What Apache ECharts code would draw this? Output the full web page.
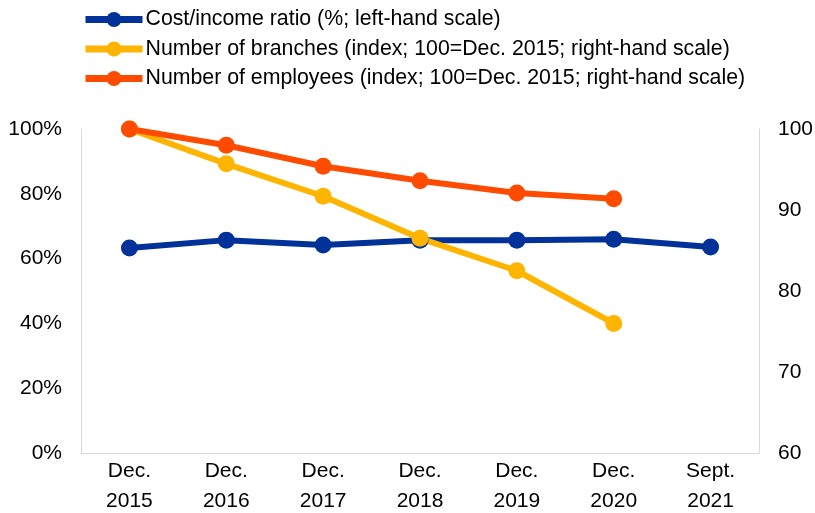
<!DOCTYPE html>
<html>
<head>
<meta charset="utf-8">
<script src="https://cdn.jsdelivr.net/npm/echarts@6/dist/echarts.min.js"></script>
<style>
  html, body { margin: 0; padding: 0; background: #fff; }
  #chart { width: 815px; height: 513px; }
</style>
</head>
<body>
<div id="chart"></div>
<script>
// categories
const categories = ['Dec.\n2015', 'Dec.\n2016', 'Dec.\n2017', 'Dec.\n2018', 'Dec.\n2019', 'Dec.\n2020', 'Sept.\n2021']

// series values
const costIncome = [63.3, 65.7, 64.2, 65.7, 65.7, 66.0, 63.6]
const branches = [100, 95.7, 91.7, 86.5, 82.5, 76.0, null]
const employees = [100, 98.0, 95.4, 93.6, 92.1, 91.4, null]

const font = 'Arial, "Liberation Sans", sans-serif'

const chart = echarts.init(document.getElementById('chart'))

const lineSeries = (name, data, color, yAxisIndex) => ({
  name: name,
  type: 'line',
  data: data,
  yAxisIndex: yAxisIndex,
  symbol: 'circle',
  symbolSize: 17,
  lineStyle: { width: 6, color: color },
  itemStyle: { color: color },
  connectNulls: false
})

chart.setOption({
  animation: false,
  textStyle: { fontFamily: font },
  legend: {
    orient: 'vertical',
    left: 77,
    top: 4,
    itemGap: 8.5,
    itemWidth: 57,
    itemHeight: 19,
    lineStyle: { width: 7 },
    textStyle: { fontSize: 21.3, lineHeight: 20, color: '#000', fontFamily: font, padding: [0, 0, 0, -2] }
  },
  grid: {
    left: 81,
    right: 56,
    top: 129,
    bottom: 60,
    outerBoundsMode: 'none'
  },
  xAxis: {
    type: 'category',
    data: categories,
    axisLine: { show: true, lineStyle: { color: '#d9d9d9' } },
    axisTick: { show: false },
    axisLabel: { fontSize: 21, color: '#000', lineHeight: 30, margin: 3 }
  },
  yAxis: [
    {
      type: 'value',
      min: 0,
      max: 100,
      interval: 20,
      splitLine: { show: false },
      axisLine: { show: true, lineStyle: { color: '#d9d9d9' } },
      axisLabel: { fontSize: 21, color: '#000', formatter: '{value}%', margin: 19 }
    },
    {
      type: 'value',
      min: 60,
      max: 100,
      interval: 10,
      splitLine: { show: false },
      axisLine: { show: true, lineStyle: { color: '#d9d9d9' } },
      axisLabel: { fontSize: 21, color: '#000', margin: 19 }
    }
  ],
  series: [
    lineSeries('Cost/income ratio (%; left-hand scale)', costIncome, '#003299', 0),
    lineSeries('Number of branches (index; 100=Dec. 2015; right-hand scale)', branches, '#FFB400', 1),
    lineSeries('Number of employees (index; 100=Dec. 2015; right-hand scale)', employees, '#FF4B00', 1)
  ]
})
</script>
</body>
</html>
